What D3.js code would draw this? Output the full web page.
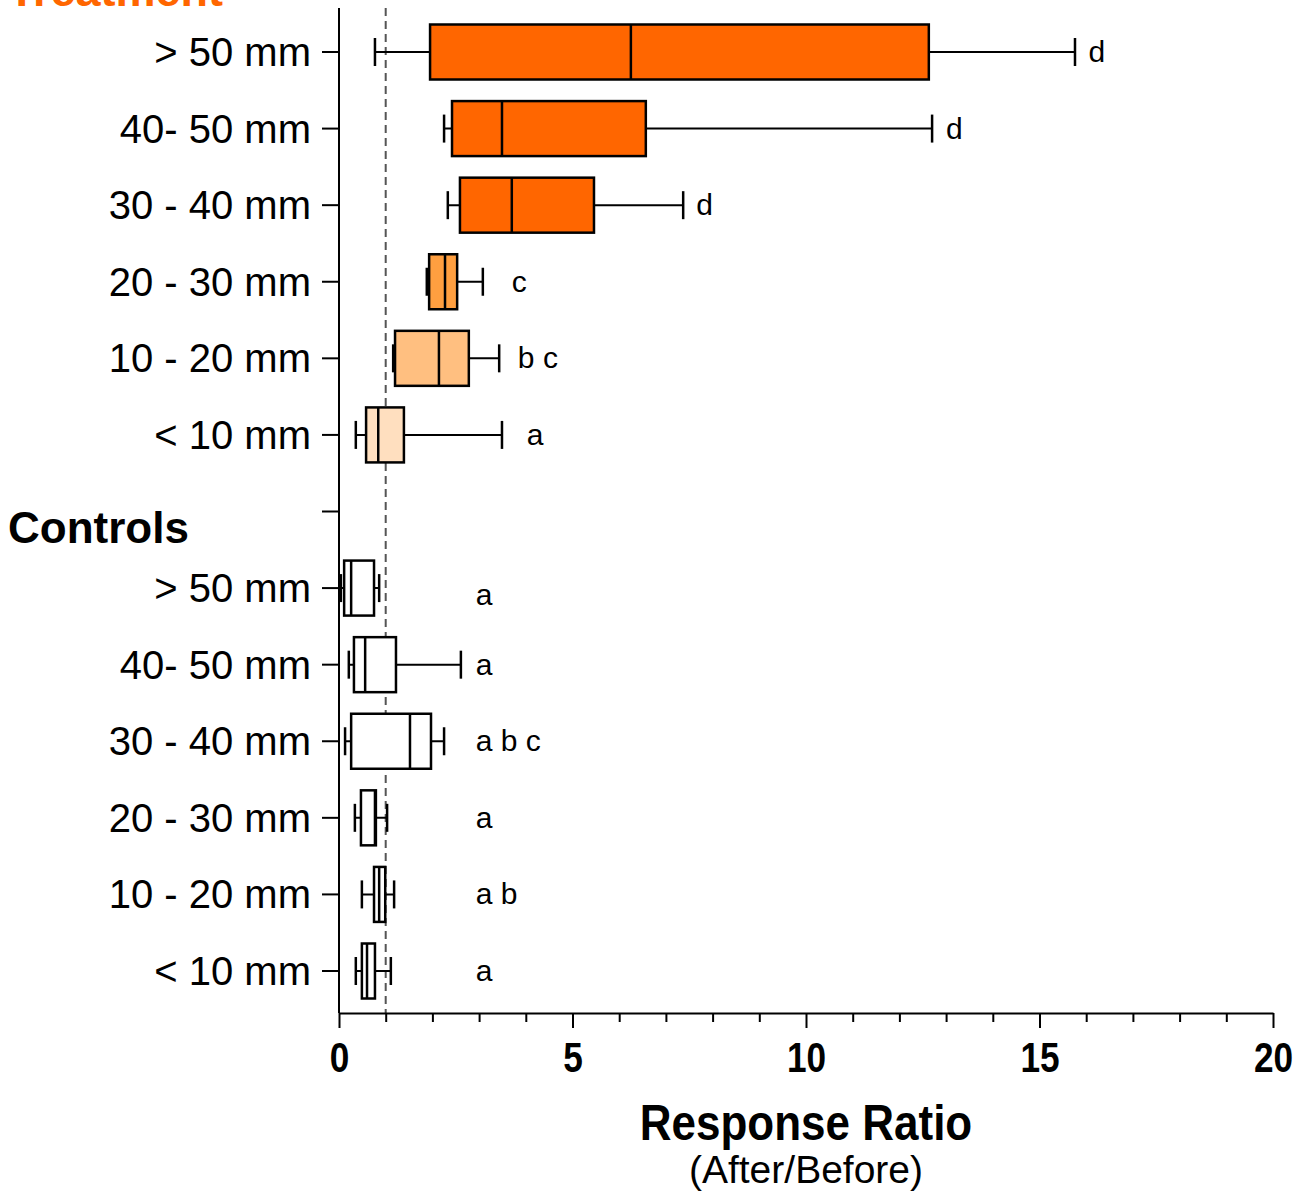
<!DOCTYPE html>
<html>
<head>
<meta charset="utf-8">
<script src="https://cdn.jsdelivr.net/npm/d3@7"></script>
<style>
  body { margin: 0; background: #fff; }
  svg { display: block; font-family: "Liberation Sans", Arial, sans-serif; }
</style>
</head>
<body>
<svg id="chart" width="1307" height="1193"></svg>
<script>
// size classes, same for both groups
const sizeLabels = ["> 50 mm", "40- 50 mm", "30 - 40 mm", "20 - 30 mm", "10 - 20 mm", "< 10 mm"];

// Treatment boxes (response ratio)
const treatWhiskLo = [0.77, 2.25, 2.33, 1.88, 1.16, 0.36];
const treatQ1      = [1.95, 2.42, 2.59, 1.93, 1.20, 0.58];
const treatMed     = [6.25, 3.49, 3.70, 2.27, 2.14, 0.84];
const treatQ3      = [12.63, 6.57, 5.46, 2.53, 2.78, 1.39];
const treatWhiskHi = [15.76, 12.70, 7.37, 3.08, 3.43, 3.49];
const treatLetters = ["d", "d", "d", "c", "b c", "a"];
const treatLetterAt = [16.05, 13.0, 7.65, 3.70, 3.83, 4.02];
const treatFill = ["#ff6600", "#ff6600", "#ff6600", "#ff9f40", "#ffbf80", "#ffdfbf"];

// Controls boxes
const ctrlWhiskLo = [0.04, 0.21, 0.13, 0.34, 0.49, 0.36];
const ctrlQ1      = [0.11, 0.32, 0.26, 0.47, 0.75, 0.49];
const ctrlMed     = [0.26, 0.56, 1.52, 0.77, 0.86, 0.60];
const ctrlQ3      = [0.75, 1.22, 1.97, 0.79, 0.99, 0.77];
const ctrlWhiskHi = [0.86, 2.61, 2.25, 1.03, 1.18, 1.11];
const ctrlLetters = ["a", "a", "a b c", "a", "a b", "a"];
const ctrlLetterAt = [2.93, 2.93, 2.93, 2.93, 2.93, 2.93];

const xTicks = d3.range(0, 21);
const xTickLabels = [0, 5, 10, 15, 20];
const refLine = 1; // no change

// build rows: slot 0-5 treatment, slot 6 is the gap, 7-12 controls
const rows = [];
sizeLabels.forEach((lab, i) => {
  rows.push({ slot: i, label: lab, lo: treatWhiskLo[i], q1: treatQ1[i], med: treatMed[i],
    q3: treatQ3[i], hi: treatWhiskHi[i], letter: treatLetters[i], letterAt: treatLetterAt[i], fill: treatFill[i] });
});
sizeLabels.forEach((lab, i) => {
  rows.push({ slot: i + 7, label: lab, lo: ctrlWhiskLo[i], q1: ctrlQ1[i], med: ctrlMed[i],
    q3: ctrlQ3[i], hi: ctrlWhiskHi[i], letter: ctrlLetters[i], letterAt: ctrlLetterAt[i], fill: "#ffffff" });
});

const svg = d3.select("#chart");
const plotTop = 8, plotBottom = 1013;

const x = d3.scaleLinear().domain([0, 20]).range([339, 1273]);
const y = d3.scalePoint().domain(d3.range(13)).range([52, 971]);

const boxH = 55, capH = 28;

// dashed reference line at 1
svg.append("line")
  .attr("x1", x(refLine)).attr("x2", x(refLine))
  .attr("y1", plotTop).attr("y2", plotBottom)
  .attr("stroke", "#555").attr("stroke-width", 2)
  .attr("stroke-dasharray", "8,5");

// boxes
const g = svg.append("g").selectAll("g").data(rows).join("g")
  .attr("transform", d => `translate(0,${y(d.slot)})`);

g.append("line") // whisker
  .attr("x1", d => x(d.lo)).attr("x2", d => x(d.hi))
  .attr("stroke", "#000").attr("stroke-width", 2);
g.append("line") // low cap
  .attr("x1", d => x(d.lo)).attr("x2", d => x(d.lo))
  .attr("y1", -capH / 2).attr("y2", capH / 2)
  .attr("stroke", "#000").attr("stroke-width", 2.5);
g.append("line") // high cap
  .attr("x1", d => x(d.hi)).attr("x2", d => x(d.hi))
  .attr("y1", -capH / 2).attr("y2", capH / 2)
  .attr("stroke", "#000").attr("stroke-width", 2.5);
g.append("rect")
  .attr("x", d => x(d.q1)).attr("width", d => x(d.q3) - x(d.q1))
  .attr("y", -boxH / 2).attr("height", boxH)
  .attr("fill", d => d.fill).attr("stroke", "#000").attr("stroke-width", 2.5);
g.append("line") // median
  .attr("x1", d => x(d.med)).attr("x2", d => x(d.med))
  .attr("y1", -boxH / 2).attr("y2", boxH / 2)
  .attr("stroke", "#000").attr("stroke-width", 2.5);
g.append("text")
  .attr("x", d => x(d.letterAt)).attr("y", d => d.slot === 7 ? 17 : 10)
  .attr("font-size", 30).attr("fill", "#000")
  .text(d => d.letter);

// y axis
const yAxis = svg.append("g");
yAxis.append("line")
  .attr("x1", 339).attr("x2", 339).attr("y1", plotTop).attr("y2", plotBottom)
  .attr("stroke", "#000").attr("stroke-width", 2);
yAxis.selectAll("line.tick").data(d3.range(13)).join("line")
  .attr("class", "tick")
  .attr("x1", 322).attr("x2", 339)
  .attr("y1", d => y(d)).attr("y2", d => y(d))
  .attr("stroke", "#000").attr("stroke-width", 2);
yAxis.selectAll("text").data(rows).join("text")
  .attr("x", 311).attr("y", d => y(d.slot) + 14)
  .attr("text-anchor", "end").attr("font-size", 40)
  .text(d => d.label);

// x axis
const xAxis = svg.append("g")
  .attr("transform", `translate(0,${plotBottom})`)
  .call(d3.axisBottom(x).tickValues(xTicks).tickSize(9).tickSizeOuter(0)
    .tickFormat(d => xTickLabels.includes(d) ? d : ""));
xAxis.select(".domain").attr("stroke-width", 2);
xAxis.selectAll(".tick line").attr("stroke-width", 2)
  .attr("y2", d => d % 5 === 0 ? 15 : 9);
xAxis.selectAll(".tick text")
  .attr("font-family", "'Liberation Sans', Arial, sans-serif")
  .attr("font-size", 40).attr("font-weight", "bold").attr("fill", "#000")
  .attr("y", 26).attr("dy", "0.71em")
  .attr("transform", "scale(0.88,1.08)");

// titles
svg.append("text")
  .attr("transform", "translate(806,1140) scale(1,1.15)")
  .attr("text-anchor", "middle")
  .attr("font-size", 44).attr("font-weight", "bold")
  .text("Response Ratio");
svg.append("text")
  .attr("x", 806).attr("y", 1183).attr("text-anchor", "middle")
  .attr("font-size", 39)
  .text("(After/Before)");
svg.append("text")
  .attr("x", 8).attr("y", 6)
  .attr("font-size", 45).attr("font-weight", "bold").attr("fill", "#ff6600")
  .text("Treatment");
svg.append("text")
  .attr("x", 8).attr("y", 543)
  .attr("font-size", 44).attr("font-weight", "bold")
  .text("Controls");
</script>
</body>
</html>
